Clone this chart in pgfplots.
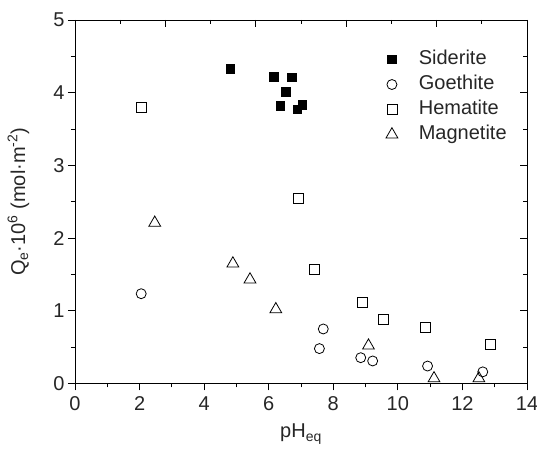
\documentclass[border=0pt]{standalone}
\usepackage{pgfplots}
\pgfplotsset{compat=1.18}
\usepackage{fontspec}
\setmainfont{Liberation Sans}
\newcommand{\fs}{\fontsize{20}{24}\selectfont}
\pgfplotstableread{
x y
4.82 4.33
6.16 4.22
6.72 4.21
6.53 4.01
6.37 3.82
6.88 3.77
7.04 3.83
}\siderite
\pgfplotstableread{
x y
2.05 1.235
7.69 0.75
7.57 0.48
8.85 0.355
9.22 0.31
10.92 0.24
12.63 0.16
}\goethite
\pgfplotstableread{
x y
2.05 3.80
6.93 2.54
7.42 1.575
8.91 1.11
9.55 0.88
10.84 0.765
12.87 0.54
}\hematite
\pgfplotstableread{
x y
2.47 2.21
4.89 1.65
5.42 1.43
6.22 1.02
9.09 0.52
11.12 0.07
12.51 0.07
}\magnetite
\begin{document}
\begin{tikzpicture}
\useasboundingbox (-75pt,-70.5pt) rectangle (462pt,383.5pt);
\begin{axis}[
  at={(0,0)}, anchor=south west,
  width=452pt, height=363.5pt, scale only axis,
  xmin=0, xmax=14, ymin=0, ymax=5,
  xtick={0,2,...,14}, ytick={0,1,...,5},
  minor x tick num=1, minor y tick num=1,
  xtick pos=bottom, ytick pos=left,
  tick align=outside,
  major tick length=7pt, minor tick length=4pt,
  every tick/.style={black, line width=0.9pt},
  axis line style={line width=0.9pt, black},
  /pgf/number format/assume math mode=true,
  tick label style={font=\fs, black!85},
  label style={font=\fs, black!85},
  xticklabel style={yshift=-3pt},
  xlabel={pH\textsubscript{eq}},
  ylabel={Q\textsubscript{e}·10\textsuperscript{6} (mol·m\textsuperscript{-2})},
  xlabel style={at={(axis description cs:0.5,-0.1499)}, anchor=base},
  ylabel style={at={(axis description cs:-0.1106,0.5)}, anchor=base},
  clip=false,
  legend cell align=left,
  legend image code/.code={\draw[mark repeat=2,mark phase=2,#1] plot coordinates {(0pt,0pt) (10pt,0pt) (20pt,0pt)};},
  legend style={at={(axis description cs:0.6877,0.9166)}, anchor=north west,
    draw=none, fill=none, font=\fs, inner sep=0pt, row sep=7pt, column sep=21pt,
    nodes={inner sep=0pt, text height=14pt, text depth=4pt, text=black!85}},
]
\addplot[only marks, mark=square*, mark size=4.2pt, mark options={black, fill=black, line width=0.8pt}] table {\siderite};
\addlegendentry{Siderite}
\addplot[only marks, mark=o, mark size=5pt, mark options={black, line width=0.8pt}] table {\goethite};
\addlegendentry{Goethite}
\addplot[only marks, mark=square, mark size=5pt, mark options={black, line width=0.8pt}] table {\hematite};
\addlegendentry{Hematite}
\addplot[only marks, mark=triangle, mark size=6.8pt, mark options={black, line width=0.8pt}] table {\magnetite};
\addlegendentry{Magnetite}
\end{axis}
\begin{axis}[
  at={(0,0)}, anchor=south west,
  width=452pt, height=363.5pt, scale only axis,
  xmin=0, xmax=14, ymin=0, ymax=5,
  xtick={0,2.8,5.6,8.4,11.2,14}, ytick={0,1,...,5},
  minor x tick num=1, minor y tick num=1,
  xtick pos=top, ytick pos=right,
  tick align=inside,
  xticklabels={}, yticklabels={},
  major tick length=7pt, minor tick length=4pt,
  every tick/.style={black, line width=0.9pt},
  axis line style={line width=0.9pt, black},
]
\end{axis}
\end{tikzpicture}
\end{document}
